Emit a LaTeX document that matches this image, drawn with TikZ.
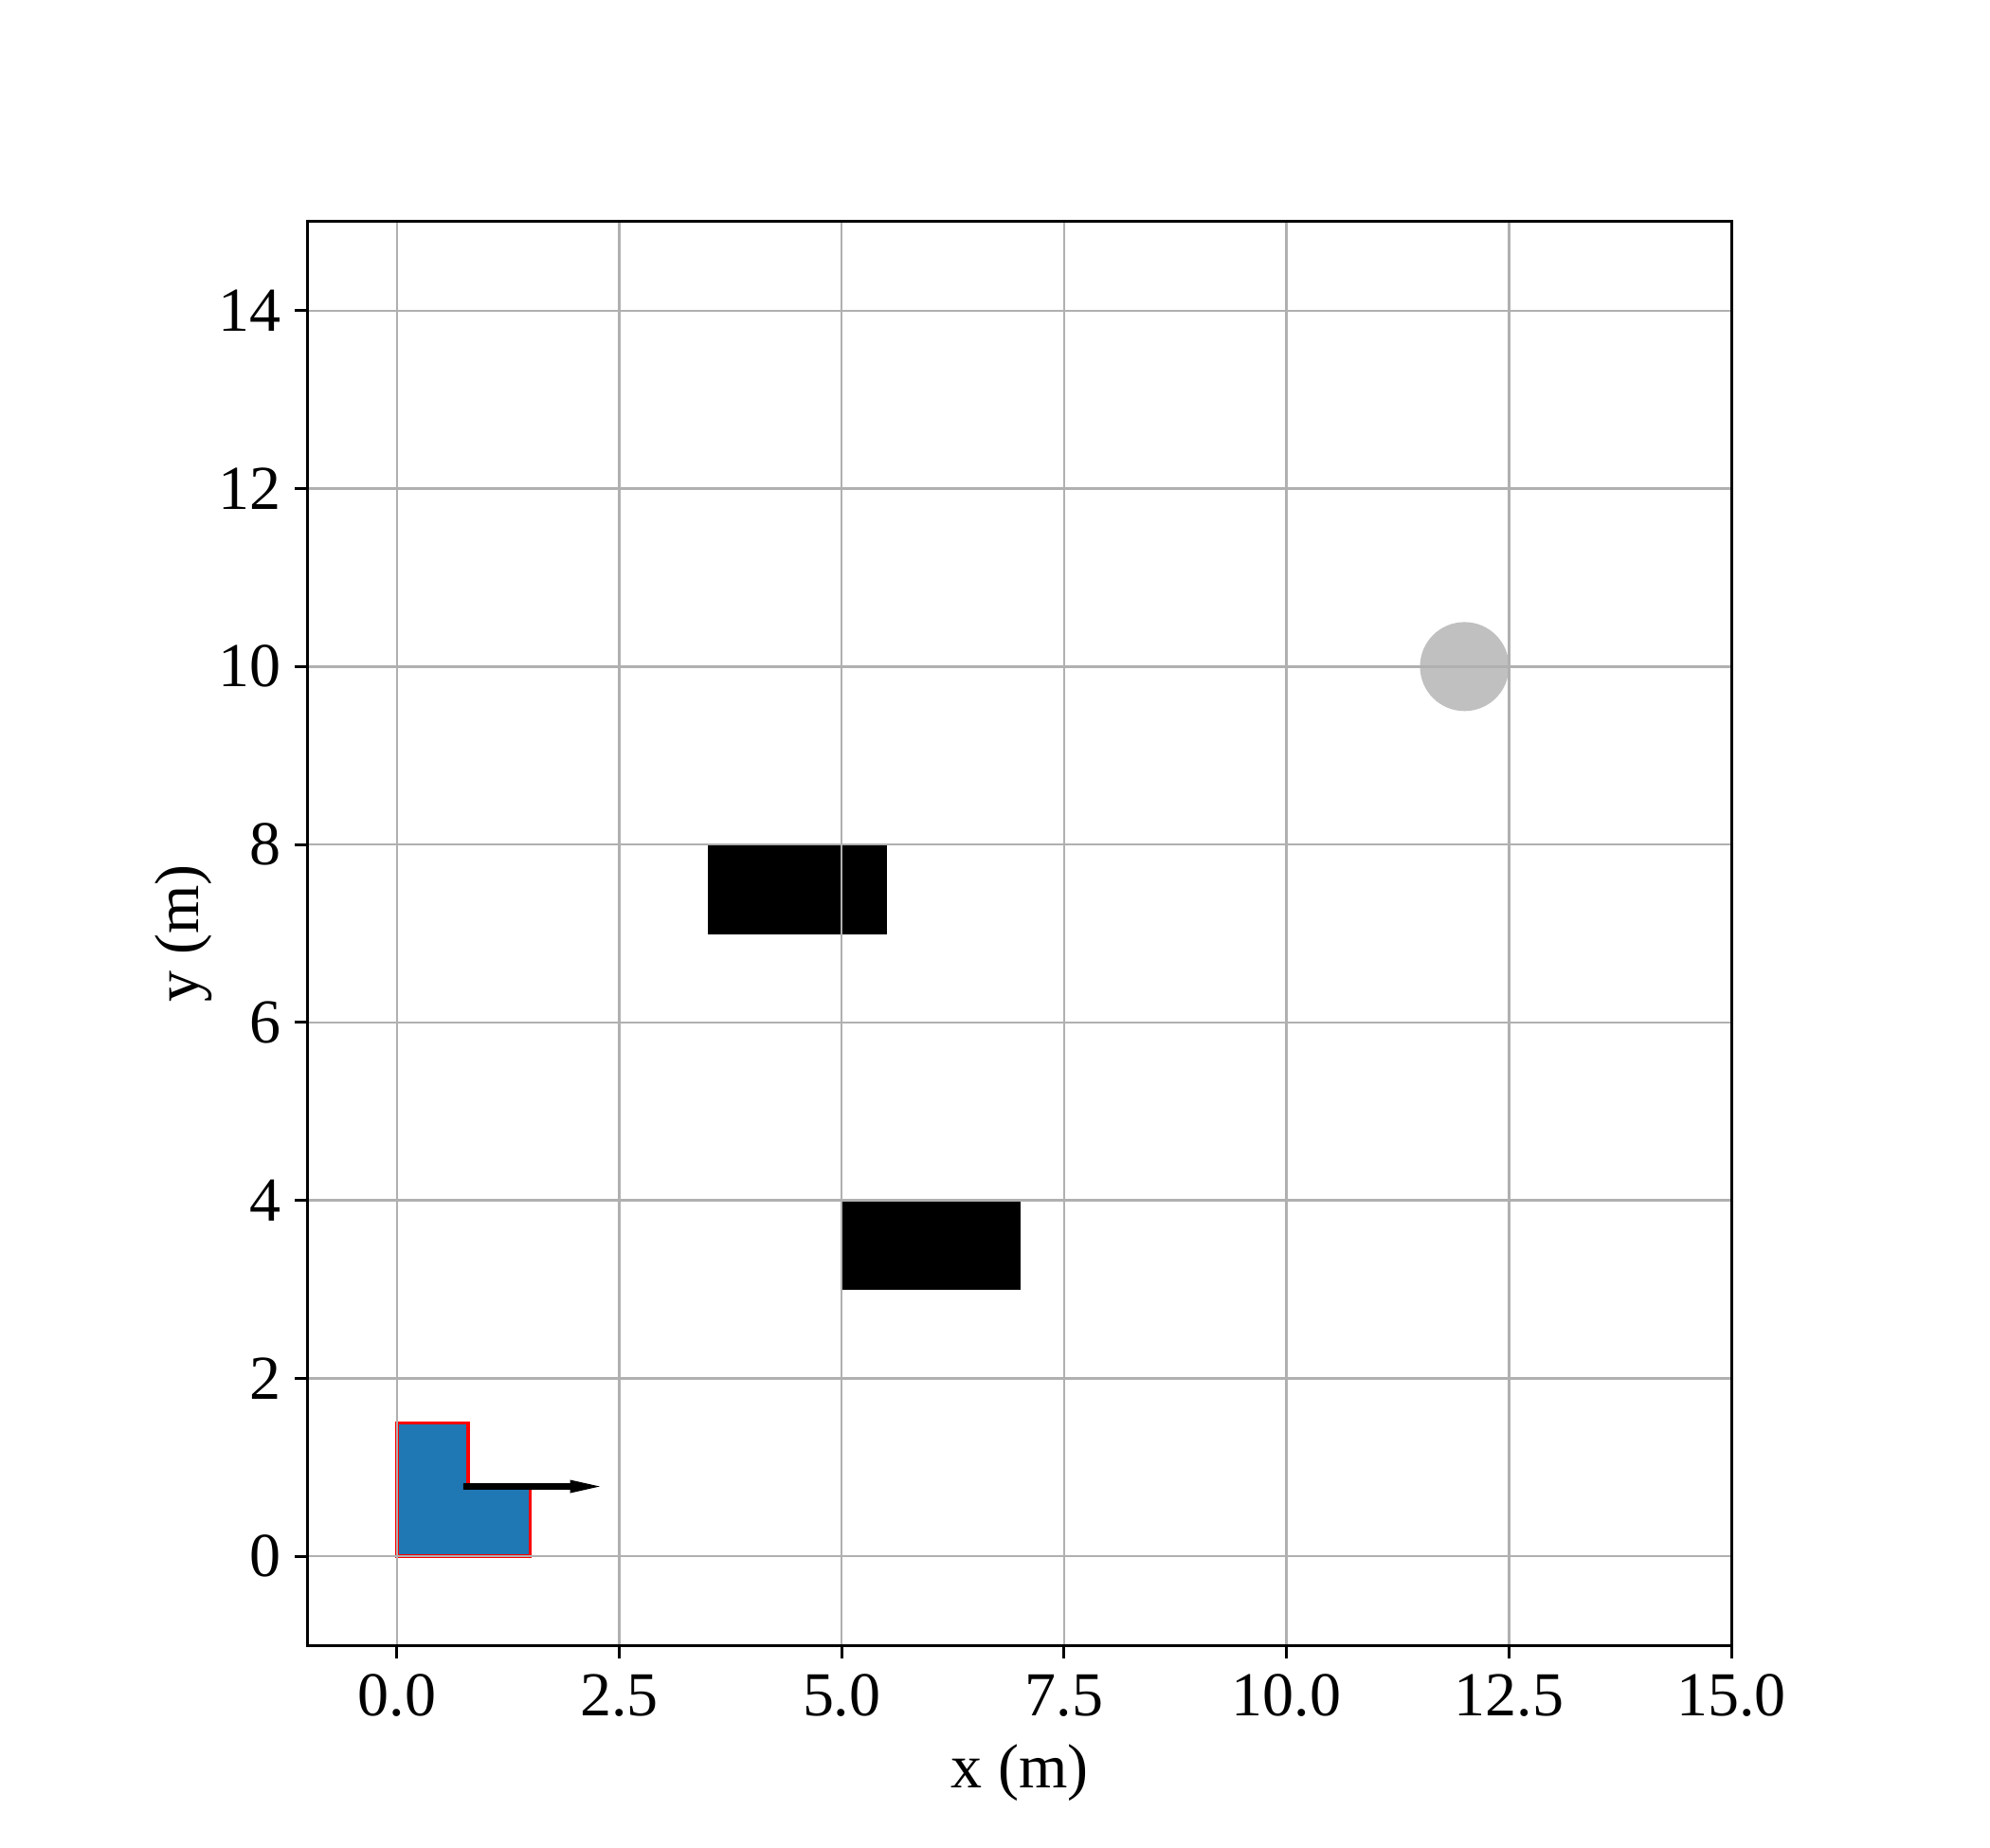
\documentclass[tikz,border=0pt]{standalone}
\usepackage{fontspec}
\setmainfont{Liberation Serif}
\definecolor{gridgray}{HTML}{B0B0B0}
\definecolor{mplblue}{HTML}{1F77B4}
\definecolor{silverc}{HTML}{C0C0C0}
\tikzset{
  gridline/.style={draw=gridgray, line width=0.75pt},
  spine/.style={draw=black, line width=0.9pt},
  tickmark/.style={draw=black, line width=0.9pt},
  ticklab/.style={font=\fontsize{20}{24}\selectfont, inner sep=0pt},
  axlab/.style={font=\fontsize{20}{24}\selectfont, inner sep=0pt},
  obstacle/.style={fill=black, draw=black, line width=0.4pt},
  robot/.style={fill=mplblue, draw=red, line width=1.05pt},
}
\begin{document}
\begin{tikzpicture}[x=1cm,y=1cm]
\useasboundingbox[fill=white] (-4.461,-3.268) rectangle (17.907,17.492);
% patches
\draw[robot] (0,0) -- (1.5,0) -- (1.5,0.8) -- (0.8,0.8) -- (0.8,1.5) -- (0,1.5) -- cycle;
\draw[obstacle] (3.5,7) rectangle (5.5,8);
\draw[obstacle] (5,3) rectangle (7,4);
\fill[silverc] (12,10) circle (0.5);
% arrow
\fill[black] (0.745,0.75) -- (1.946,0.75) -- (1.946,0.71) -- (2.28,0.785) -- (1.946,0.86) -- (1.946,0.82) -- (0.745,0.82) -- cycle;
% grid
\foreach \x in {0,2.5,5,7.5,10,12.5,15} {
  \draw[gridline] (\x,-1) -- (\x,15);
}
\foreach \y in {0,2,...,14} {
  \draw[gridline] (-1,\y) -- (15,\y);
}
% spines
\draw[spine] (-1,-1) rectangle (15,15);
% ticks and labels
\foreach \x/\lab in {0/0.0,2.5/2.5,5/5.0,7.5/7.5,10/10.0,12.5/12.5,15/15.0} {
  \draw[tickmark] (\x,-1) -- (\x,-1.149);
  \node[ticklab, anchor=north] (xt\x) at (\x,-1.32) {\lab};
}
\foreach \y in {0,2,...,14} {
  \draw[tickmark] (-1,\y) -- (-1.149,\y);
  \node[ticklab, anchor=east] (yt\y) at (-1.298,\y) {\y};
}
\node[axlab, anchor=base] (xlabel) at (7,-2.597) {x (m)};
\node[axlab, anchor=base, rotate=90] (ylabel) at (-2.225,7) {y (m)};
\end{tikzpicture}
\end{document}
